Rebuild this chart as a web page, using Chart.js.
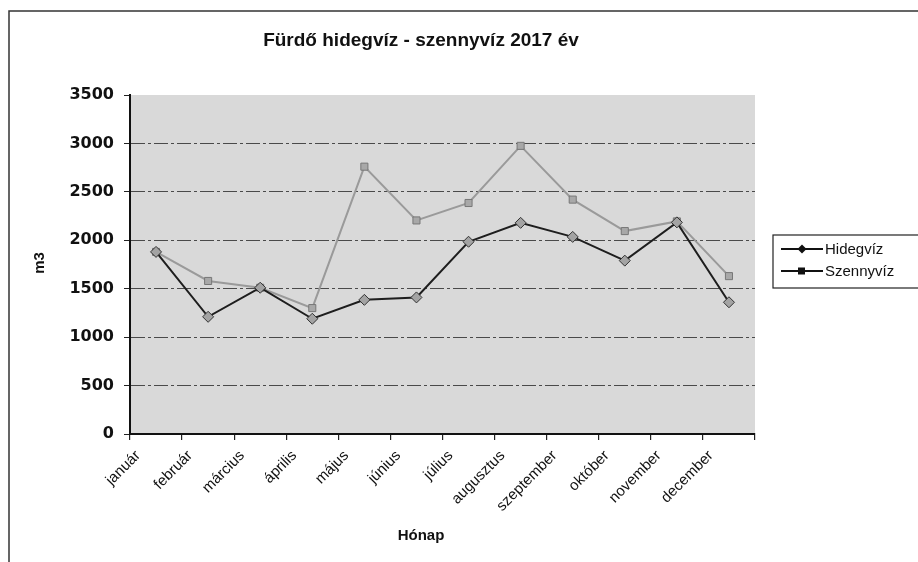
<!DOCTYPE html>
<html>
<head>
<meta charset="utf-8">
<script src="https://cdn.jsdelivr.net/npm/chart.js@4/dist/chart.umd.min.js"></script>
<style>
html,body{margin:0;padding:0;background:#fff;}
#wrap{width:918px;height:562px;position:relative;}
</style>
</head>
<body>
<div id="wrap"><canvas id="c" width="918" height="562"></canvas></div>
<script>
const titleText = "Fürdő hidegvíz - szennyvíz 2017 év";
const xTitle = "Hónap";
const yTitle = "m3";
const months = ["január","február","március","április","május","június","július","augusztus","szeptember","október","november","december"];
const hidegviz = [1880, 1210, 1510, 1190, 1385, 1410, 1985, 2180, 2035, 1790, 2185, 1360];
const szennyviz = [1880, 1580, 1510, 1300, 2760, 2205, 2385, 2975, 2420, 2095, 2195, 1630];
const yTicks = [0, 500, 1000, 1500, 2000, 2500, 3000, 3500];

const PLOT = {left:130, right:755, top:95, bottom:434};

const decor = {
  id:'decor',
  beforeDraw(chart){
    const ctx = chart.ctx, a = chart.chartArea;
    ctx.save();
    ctx.fillStyle = '#fff';
    ctx.fillRect(0,0,chart.width,chart.height);
    ctx.fillStyle = '#d9d9d9';
    ctx.fillRect(a.left, a.top, a.right-a.left, a.bottom-a.top);
    ctx.strokeStyle = '#333';
    ctx.lineWidth = 1.5;
    ctx.beginPath();
    ctx.moveTo(9, 562); ctx.lineTo(9, 11); ctx.lineTo(918, 11);
    ctx.stroke();
    ctx.restore();
  },
  afterDraw(chart){
    const ctx = chart.ctx;
    ctx.save();
    ctx.fillStyle = '#111';
    ctx.textAlign = 'center';
    ctx.textBaseline = 'middle';
    ctx.font = 'bold 19px "Liberation Sans", Arial, sans-serif';
    ctx.fillText(titleText, 421, 41);
    ctx.font = 'bold 15px "Liberation Sans", Arial, sans-serif';
    ctx.fillText(xTitle, 421, 536);
    ctx.save();
    ctx.translate(40, 263);
    ctx.rotate(-Math.PI/2);
    ctx.fillText(yTitle, 0, 0);
    ctx.restore();
    // legend
    const lx = 773, ly = 235, lw = 160, lh = 53;
    ctx.strokeStyle = '#222';
    ctx.lineWidth = 1.2;
    ctx.strokeRect(lx, ly, lw, lh);
    const rowsY = [249, 271];
    chart.data.datasets.forEach((ds, i) => {
      const y = rowsY[i];
      ctx.strokeStyle = '#111';
      ctx.lineWidth = 2;
      ctx.beginPath(); ctx.moveTo(781, y); ctx.lineTo(823, y); ctx.stroke();
      ctx.fillStyle = '#111';
      if (ds.pointStyle === 'rectRot') {
        ctx.beginPath(); ctx.moveTo(802, y-4.5); ctx.lineTo(806.5, y); ctx.lineTo(802, y+4.5); ctx.lineTo(797.5, y); ctx.closePath(); ctx.fill();
      } else {
        ctx.fillRect(798, y-3.5, 7, 7);
      }
      ctx.font = '15px "Liberation Sans", Arial, sans-serif';
      ctx.textAlign = 'left';
      ctx.fillText(ds.label, 825, y+1);
    });
    ctx.restore();
  }
};

new Chart(document.getElementById('c'), {
  type: 'line',
  data: {
    labels: months,
    datasets: [
      {
        label: 'Hidegvíz',
        data: hidegviz,
        borderColor: '#1e1e1e',
        borderWidth: 2,
        pointStyle: 'rectRot',
        pointRadius: 5.5,
        pointBackgroundColor: '#a3a3a3',
        pointBorderColor: '#333',
        pointBorderWidth: 1,
        tension: 0,
        order: 1
      },
      {
        label: 'Szennyvíz',
        data: szennyviz,
        borderColor: '#9a9a9a',
        borderWidth: 2,
        pointStyle: 'rect',
        pointRadius: 5,
        pointBackgroundColor: '#a8a8a8',
        pointBorderColor: '#777',
        pointBorderWidth: 1,
        tension: 0,
        order: 2
      }
    ]
  },
  options: {
    responsive: false,
    animation: false,
    events: [],
    layout: { padding: { left: 0, top: PLOT.top, right: 918 - PLOT.right, bottom: 0 } },
    plugins: {
      legend: { display: false },
      title: { display: false },
      tooltip: { enabled: false }
    },
    scales: {
      x: {
        type: 'category',
        offset: true,
        afterFit(s){ s.height = 562 - PLOT.bottom; },
        grid: {
          offset: true,
          drawOnChartArea: false,
          drawTicks: true,
          tickLength: 6,
          color: '#222',
          lineWidth: 1.2
        },
        border: { display: true, color: '#111', width: 2 },
        ticks: {
          autoSkip: false,
          maxRotation: 45,
          minRotation: 45,
          labelOffset: -18,
          padding: 7,
          color: '#111',
          font: { family: '"Liberation Sans", Arial, sans-serif', size: 15 }
        }
      },
      y: {
        min: 0,
        max: 3500,
        afterFit(s){ s.width = PLOT.left; },
        afterBuildTicks(s){ s.ticks = yTicks.map(v => ({value: v})); },
        grid: {
          drawTicks: true,
          tickLength: 6,
          tickBorderDash: [],
          tickColor: '#222',
          color: (c) => (c.tick && (c.tick.value === 0 || c.tick.value === 3500)) ? 'rgba(0,0,0,0)' : '#4a4a4a',
          lineWidth: 1
        },
        border: { display: true, color: '#111', width: 2, dash: [14, 3, 3, 3] },
        ticks: {
          padding: 10,
          color: '#111',
          callback: (v) => String(v),
          font: { family: '"DejaVu Sans", sans-serif', size: 16, weight: 'bold' }
        }
      }
    }
  },
  plugins: [decor]
});
</script>
</body>
</html>
